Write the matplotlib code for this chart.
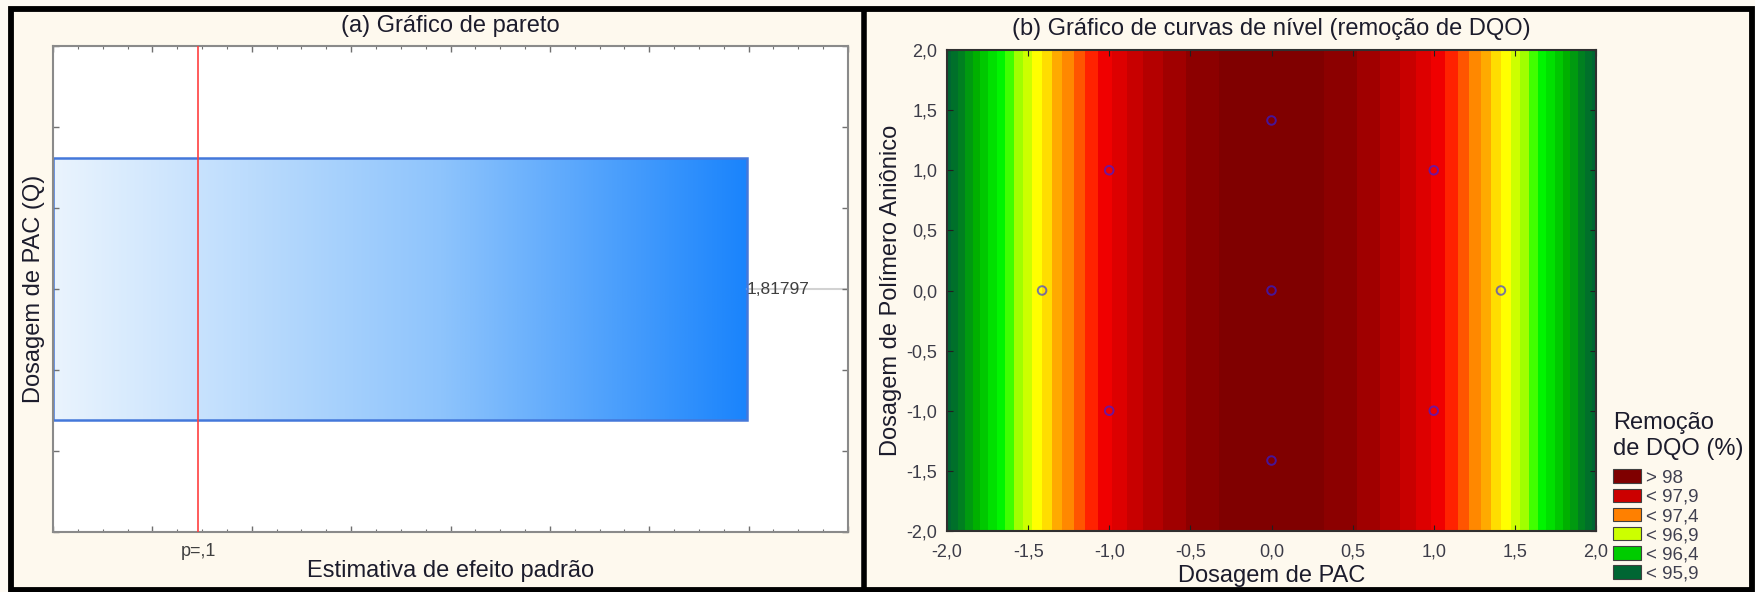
import numpy as np
import matplotlib
matplotlib.use('Agg')
import matplotlib.pyplot as plt
import matplotlib.transforms as mtransforms
from matplotlib.colors import LinearSegmentedColormap
from matplotlib.patches import Rectangle, Patch
from matplotlib.ticker import FixedLocator, AutoMinorLocator, FuncFormatter

plt.rcParams['font.family'] = ['Liberation Sans', 'DejaVu Sans']

# (a) Pareto chart
effect_name = 'Dosagem de PAC (Q)'
effect_value = 1.81797
effect_label = '1,81797'
p_limit = 0.38          # where the p=,1 line sits on the effect axis
effect_max = 2.083

# (b) fitted surface: remoção de DQO = b0 + b11 * PAC^2
b0 = 98.26
b11 = -0.578

# design points (coded)
design_pac = [-1, 1, -1, 1, -1.414, 1.414, 0, 0, 0]
design_pol = [-1, -1, 1, 1, 0, 0, -1.414, 1.414, 0]

band_levels = [95.5, 96.0, 96.1, 96.2, 96.3, 96.4, 96.5, 96.6, 96.7, 96.8, 96.9,
               97.0, 97.1, 97.2, 97.3, 97.4, 97.5, 97.6, 97.7, 97.8, 97.9,
               98.0, 98.1, 98.2, 98.5]
band_colors = ['#006633', '#00702a', '#008020', '#009a10', '#00b000', '#00c800',
               '#00e000', '#00f500', '#40ff00', '#a0ff00', '#ccff00', '#ffff00',
               '#ffdd00', '#ffaa00', '#ff8800', '#ff5500', '#ff2200', '#f00000',
               '#dd0000', '#c80000', '#b40000', '#a00000', '#8c0000', '#800000']

legend_labels = ['> 98', '< 97,9', '< 97,4', '< 96,9', '< 96,4', '< 95,9']
legend_colors = ['#7f0000', '#cc0000', '#ff8000', '#ccff00', '#00cc00', '#006633']

W, H = 1755, 592
panel_bg = '#fef9ee'
text_col = '#1c1c2c'
tick_col = '#3c3c48'

fig = plt.figure(figsize=(W / 100, H / 100), dpi=100, facecolor='#fdfaf3')


def rect(x0, y0, x1, y1):
    # pixel box (top-left origin) -> figure fractions
    return [x0 / W, 1 - y1 / H, (x1 - x0) / W, (y1 - y0) / H]


# panel backgrounds and black frames
fig.add_artist(Rectangle((11 / W, 2 / H), (1752 - 11) / W, (583 - 2) / H,
                         transform=fig.transFigure, facecolor=panel_bg,
                         edgecolor='black', lw=4.2, zorder=0))
fig.add_artist(plt.Line2D([863.5 / W, 863.5 / W], [0, 1 - 9.5 / H],
                          transform=fig.transFigure, color='black', lw=4.0))

# ---------- (a) Pareto ----------
ax1 = fig.add_axes(rect(53, 46, 848, 532))
ax1.set_facecolor('white')
bar_cmap = LinearSegmentedColormap.from_list(
    'bar', [(0, '#eaf4fe'), (0.56, '#8ec4fc'), (1, '#1a84fc')])
ax1.imshow(np.linspace(0, 1, 256).reshape(1, -1), cmap=bar_cmap, aspect='auto',
           extent=(0, effect_value, -0.5, 0.5), zorder=1)
ax1.add_patch(Rectangle((0, -0.5), effect_value, 1.0, fill=False,
                        edgecolor='#4478da', lw=1.8, zorder=2))
ax1.plot([effect_value, effect_max], [0, 0], color='#d2d2d2', lw=1.5, zorder=1)
ax1.axvline(p_limit, color='#ff4040', lw=1.2, zorder=3)
ax1.text(effect_value, 0, effect_label, ha='left', va='center', fontsize=12.5,
         color='#404040', zorder=4)
ax1.set_xlim(0, effect_max)
ax1.set_ylim(-0.93, 0.93)
ax1.xaxis.set_major_locator(FixedLocator(np.linspace(0, effect_max, 9)))
ax1.xaxis.set_minor_locator(AutoMinorLocator(4))
ax1.yaxis.set_major_locator(FixedLocator(np.linspace(-0.93, 0.93, 7)))
ax1.tick_params(which='both', direction='in', top=True, right=True,
                labelbottom=False, labelleft=False, color='#707070')
ax1.tick_params(which='major', length=4, width=1)
ax1.tick_params(which='minor', length=2.5, width=0.8)
for s in ax1.spines.values():
    s.set_color('#8a8a8a')
    s.set_linewidth(1.5)
trans = mtransforms.blended_transform_factory(ax1.transData, ax1.transAxes)
ax1.text(p_limit, -0.022, 'p=,1', transform=trans, ha='center', va='top',
         fontsize=13, color='#404040')
ax1.set_xlabel('Estimativa de efeito padrão', fontsize=17, color=text_col,
               labelpad=20)
ax1.set_ylabel(effect_name, fontsize=17, color=text_col, labelpad=6)
ax1.set_title('(a) Gráfico de pareto', fontsize=17, color=text_col, pad=10)

# ---------- (b) contour ----------
ax2 = fig.add_axes(rect(947, 50, 1596, 531))
gx = np.linspace(-2, 2, 401)
gy = np.linspace(-2, 2, 41)
X, Y = np.meshgrid(gx, gy)
Z = b0 + b11 * X ** 2 + 0 * Y
ax2.contourf(X, Y, Z, levels=band_levels, colors=band_colors)
ax2.scatter(design_pac, design_pol, s=38, facecolors='none',
            edgecolors='#2222ff', linewidths=1.4, alpha=0.6, zorder=3)
ax2.set_xlim(-2, 2)
ax2.set_ylim(-2, 2)
ticks = np.arange(-2, 2.01, 0.5)
ax2.set_xticks(ticks)
ax2.set_yticks(ticks)
comma = FuncFormatter(lambda v, p: f'{v:.1f}'.replace('.', ','))
ax2.xaxis.set_major_formatter(comma)
ax2.yaxis.set_major_formatter(comma)
ax2.tick_params(direction='in', top=True, right=True, length=4,
                color='#202020', labelsize=13, labelcolor=tick_col)
ax2.tick_params(axis='x', pad=9)
ax2.tick_params(axis='y', pad=7)
for s in ax2.spines.values():
    s.set_color('#303030')
    s.set_linewidth(1.5)
ax2.set_xlabel('Dosagem de PAC', fontsize=17, color=text_col, labelpad=3)
ax2.set_ylabel('Dosagem de Polímero Aniônico', fontsize=17, color=text_col,
               labelpad=3)
ax2.set_title('(b) Gráfico de curvas de nível (remoção de DQO)', fontsize=17,
              color=text_col, pad=11)

handles = [Patch(facecolor=c, edgecolor='#404040', lw=0.8) for c in legend_colors]
leg = fig.legend(handles, legend_labels, title='Remoção\nde DQO (%)',
                 loc='upper left', bbox_to_anchor=(1613 / W, 1 - 412 / H),
                 frameon=False, fontsize=13.5, title_fontsize=17,
                 alignment='left', borderpad=0, borderaxespad=0,
                 handlelength=1.5, handleheight=0.75, handletextpad=0.27,
                 labelspacing=0.09)
leg._legend_box.sep = 6.6   # extra room between title and entries
for t in leg.get_texts():
    t.set_color('#404050')
leg.get_title().set_color(text_col)
leg.get_title().set_linespacing(1.25)

fig.savefig('out.png', dpi=100, facecolor=fig.get_facecolor())
